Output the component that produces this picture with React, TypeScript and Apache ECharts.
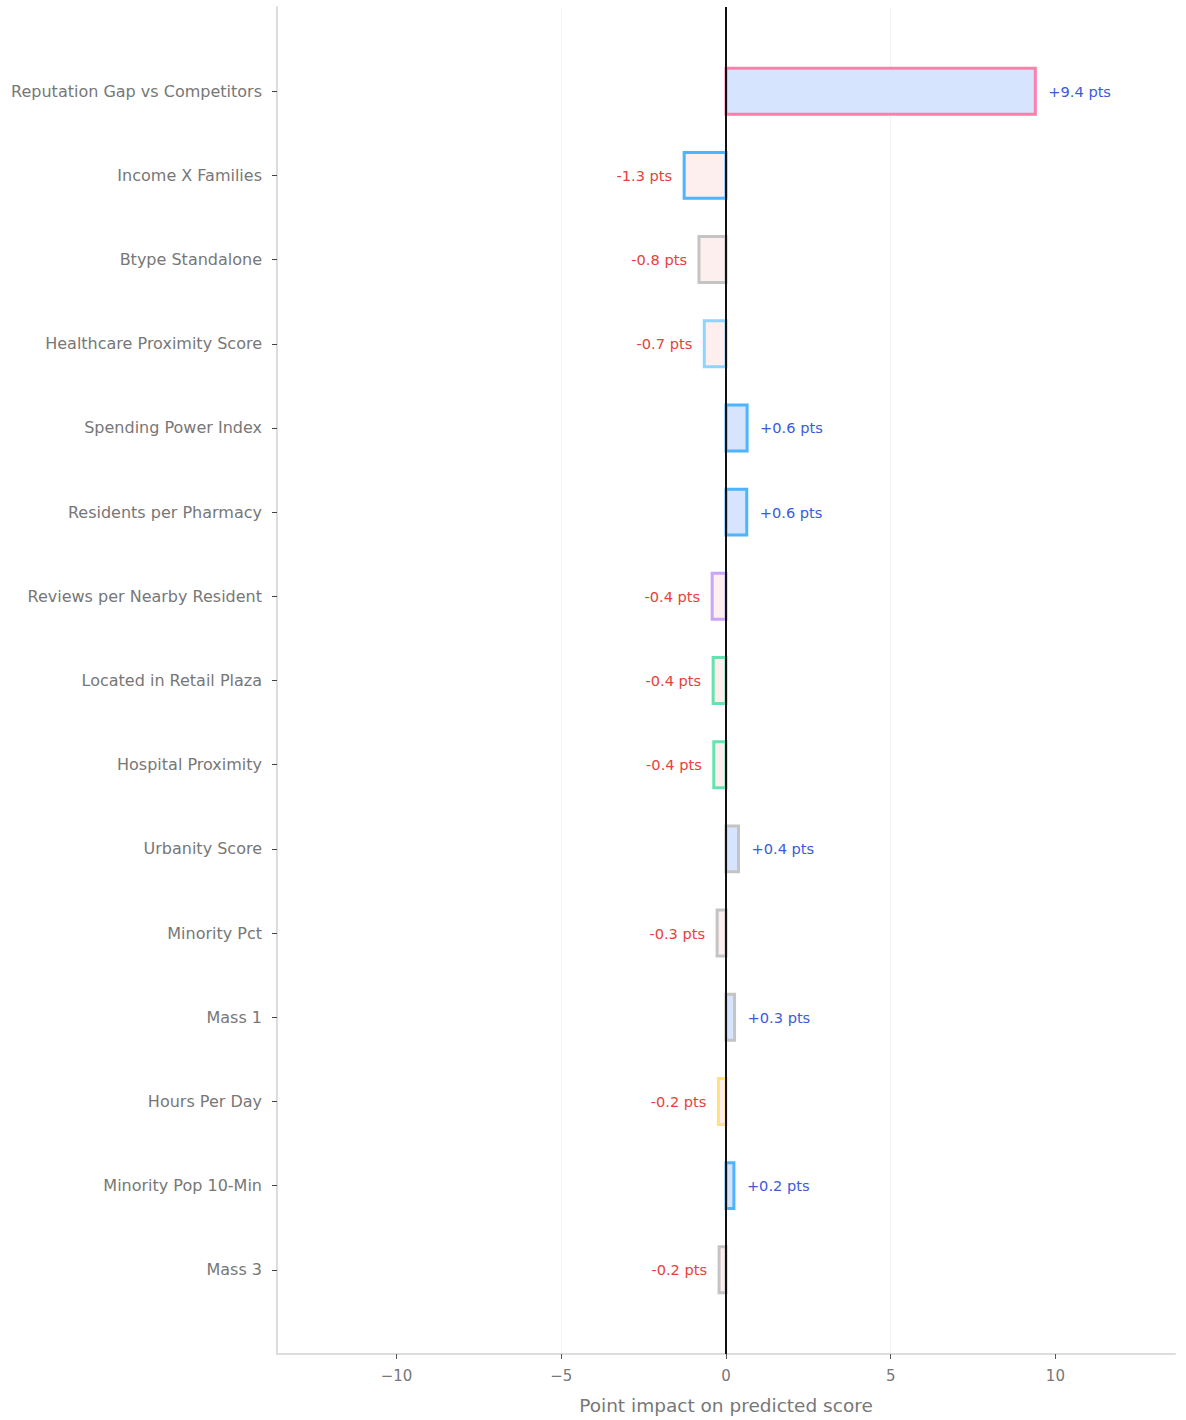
import React, { useEffect, useRef } from "react";
import * as echarts from "echarts";

const categories = [
  "Reputation Gap vs Competitors",
  "Income X Families",
  "Btype Standalone",
  "Healthcare Proximity Score",
  "Spending Power Index",
  "Residents per Pharmacy",
  "Reviews per Nearby Resident",
  "Located in Retail Plaza",
  "Hospital Proximity",
  "Urbanity Score",
  "Minority Pct",
  "Mass 1",
  "Hours Per Day",
  "Minority Pop 10-Min",
  "Mass 3",
];

const impacts = [9.39, -1.27, -0.82, -0.66, 0.64, 0.63, -0.42, -0.39, -0.37, 0.38, -0.27, 0.26, -0.23, 0.24, -0.21];
const valueLabels = ["+9.4", "-1.3", "-0.8", "-0.7", "+0.6", "+0.6", "-0.4", "-0.4", "-0.4", "+0.4", "-0.3", "+0.3", "-0.2", "+0.2", "-0.2"];
const borderColors = [
  "#ff7eaa",
  "#4db4ff",
  "#c4c4c4",
  "#8fd4fd",
  "#4db4ff",
  "#4db4ff",
  "#c9a4f7",
  "#62e3b0",
  "#62e3b0",
  "#c4c4c4",
  "#c4c4c4",
  "#c4c4c4",
  "#ffe27a",
  "#4db4ff",
  "#c4c4c4",
];
const xTicks = [-10, -5, 0, 5, 10];

const POS_FILL = "#d7e4fe";
const NEG_FILL = "#fcefed";
const POS_TEXT = "#3b5bdb";
const NEG_TEXT = "#e8413c";
const FONT = "DejaVu Sans";

export default function App() {
  const ref = useRef<HTMLDivElement>(null);
  useEffect(() => {
    if (!ref.current) return;
    const chart = echarts.init(ref.current, undefined, { renderer: "svg" });
    const idx = categories.map((_, i) => i);
    const option: any = {
      animation: false,
      backgroundColor: "#ffffff",
      grid: { left: 277, right: 11, top: 7, bottom: 62, containLabel: false },
      xAxis: {
        type: "value",
        min: -13.63,
        max: 13.63,
        name: "Point impact on predicted score",
        nameLocation: "middle",
        nameGap: 42,
        nameTextStyle: { color: "#777777", fontSize: 18.5, fontFamily: FONT },
        axisLine: { show: true, onZero: false, lineStyle: { color: "#dddddd", width: 2 } },
        axisTick: { show: true, customValues: xTicks, length: 5, lineStyle: { color: "#555555" } },
        axisLabel: {
          customValues: xTicks,
          color: "#777777",
          fontSize: 15,
          fontFamily: FONT,
          margin: 14,
          formatter: (v: number) => String(v).replace("-", "\u2212"),
        },
        splitLine: { show: true, showMinLine: false, showMaxLine: false, lineStyle: { color: "#f4f4f4", width: 1 } },
      },
      yAxis: {
        type: "value",
        inverse: true,
        min: -1,
        max: 15,
        axisLine: { show: true, onZero: false, lineStyle: { color: "#dddddd", width: 2 } },
        axisTick: { show: true, customValues: idx, length: 5, lineStyle: { color: "#444444" } },
        axisLabel: {
          customValues: idx,
          color: "#777777",
          fontSize: 16,
          fontFamily: FONT,
          margin: 15,
          formatter: (v: number) => categories[Math.round(v)] ?? "",
        },
        splitLine: { show: false },
      },
      series: [
        {
          type: "custom",
          data: impacts.map((v, i) => [v, i]),
          encode: { x: 0, y: 1 },
          renderItem: (params: any, api: any) => {
            const i = params.dataIndex;
            const v = api.value(0);
            const y = api.value(1);
            const p0 = api.coord([0, y]);
            const p1 = api.coord([v, y]);
            const h = api.size([0, 1])[1] * 0.545;
            const x = Math.min(p0[0], p1[0]);
            const w = Math.abs(p1[0] - p0[0]);
            const pos = v >= 0;
            return {
              type: "group",
              children: [
                {
                  type: "rect",
                  shape: { x, y: p0[1] - h / 2, width: w, height: h },
                  style: { fill: pos ? POS_FILL : NEG_FILL, stroke: borderColors[i], lineWidth: 3 },
                },
                {
                  type: "text",
                  style: {
                    text: valueLabels[i] + " pts",
                    x: pos ? p1[0] + 13 : p1[0] - 12,
                    y: p0[1],
                    align: pos ? "left" : "right",
                    verticalAlign: "middle",
                    fill: pos ? POS_TEXT : NEG_TEXT,
                    font: `14.6px "${FONT}"`,
                  },
                },
              ],
            };
          },
          z: 2,
        },
        {
          type: "line",
          data: [
            [0, -1],
            [0, 15],
          ],
          symbol: "none",
          silent: true,
          lineStyle: { color: "#111111", width: 2 },
          z: 5,
        },
      ],
    };
    chart.setOption(option);
    return () => chart.dispose();
  }, []);
  return (
    <div
      ref={ref}
      style={{ position: "fixed", left: 0, top: 0, width: 1186, height: 1420, background: "#fff" }}
    />
  );
}
